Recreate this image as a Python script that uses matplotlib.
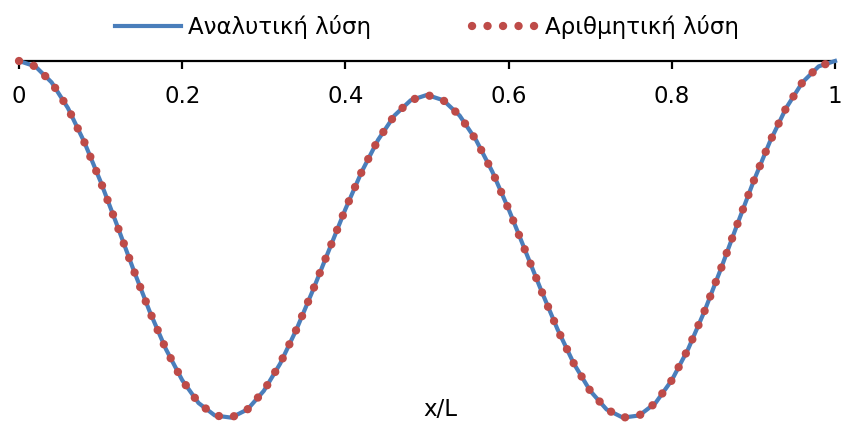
import matplotlib.pyplot as plt

# EDIT HERE
x_l = [0.00, 0.02, 0.04, 0.06, 0.08, 0.10, 0.12, 0.14, 0.16, 0.18,
       0.20, 0.22, 0.24, 0.26, 0.28, 0.30, 0.32, 0.34, 0.36, 0.38,
       0.40, 0.42, 0.44, 0.46, 0.48, 0.50, 0.52, 0.54, 0.56, 0.58,
       0.60, 0.62, 0.64, 0.66, 0.68, 0.70, 0.72, 0.74, 0.76, 0.78,
       0.80, 0.82, 0.84, 0.86, 0.88, 0.90, 0.92, 0.94, 0.96, 0.98, 1.00]
analytic = [0.000, -0.015, -0.060, -0.132, -0.227, -0.338, -0.459, -0.583, -0.701, -0.807,
            -0.894, -0.958, -0.993, -0.999, -0.976, -0.924, -0.848, -0.752, -0.643, -0.529,
            -0.415, -0.310, -0.221, -0.153, -0.110, -0.095, -0.110, -0.153, -0.221, -0.310,
            -0.415, -0.529, -0.643, -0.752, -0.848, -0.924, -0.976, -0.999, -0.993, -0.958,
            -0.894, -0.807, -0.701, -0.583, -0.459, -0.338, -0.227, -0.132, -0.060, -0.015, 0.000]
numeric = [0.000, -0.015, -0.060, -0.132, -0.227, -0.338, -0.459, -0.583, -0.701, -0.807,
           -0.894, -0.958, -0.993, -0.999, -0.976, -0.924, -0.848, -0.752, -0.643, -0.529,
           -0.415, -0.310, -0.221, -0.153, -0.110, -0.095, -0.110, -0.153, -0.221, -0.310,
           -0.415, -0.529, -0.643, -0.752, -0.848, -0.924, -0.976, -0.999, -0.993, -0.958,
           -0.894, -0.807, -0.701, -0.583, -0.459, -0.338, -0.227, -0.132, -0.060, -0.015, 0.000]
xticks = [0, 0.2, 0.4, 0.6, 0.8, 1]
xtick_labels = ["0", "0.2", "0.4", "0.6", "0.8", "1"]

fig = plt.figure(figsize=(8.41, 4.28), dpi=100)
ax = fig.add_axes([0.0226, 0.0234, 0.9703, 0.8341])

ax.plot(x_l, analytic, "-", color="#4A7EBB", linewidth=3,
        label="Αναλυτική λύση", clip_on=False, zorder=3)
ax.plot(x_l, numeric, color="#BE4B48", linewidth=6,
        dashes=(0.01, 1.85), dash_capstyle="round",
        label="Αριθμητική λύση", clip_on=False, zorder=4)

ax.set_xlim(0, 1)
ax.set_ylim(-1.0, 0)
for s in ["top", "left", "right"]:
    ax.spines[s].set_visible(False)
ax.spines["bottom"].set_position(("data", 0))
ax.spines["bottom"].set_linewidth(1.6)
ax.spines["bottom"].set_zorder(2)
ax.set_yticks([])
ax.set_xticks(xticks)
ax.set_xticklabels(xtick_labels, fontsize=16.5)
ax.tick_params(axis="x", direction="out", length=6, width=1.6, pad=11)

fig.text(440 / 841, 1 - 410 / 428, "x/L", fontsize=16.5, ha="center", va="center")

fig.legend(loc="center", bbox_to_anchor=(427 / 841, 1 - 27 / 428), ncol=2,
           frameon=False, fontsize=16.5, handlelength=2.9, columnspacing=4.4,
           handletextpad=0.3)

plt.savefig("out.png", dpi=100)
